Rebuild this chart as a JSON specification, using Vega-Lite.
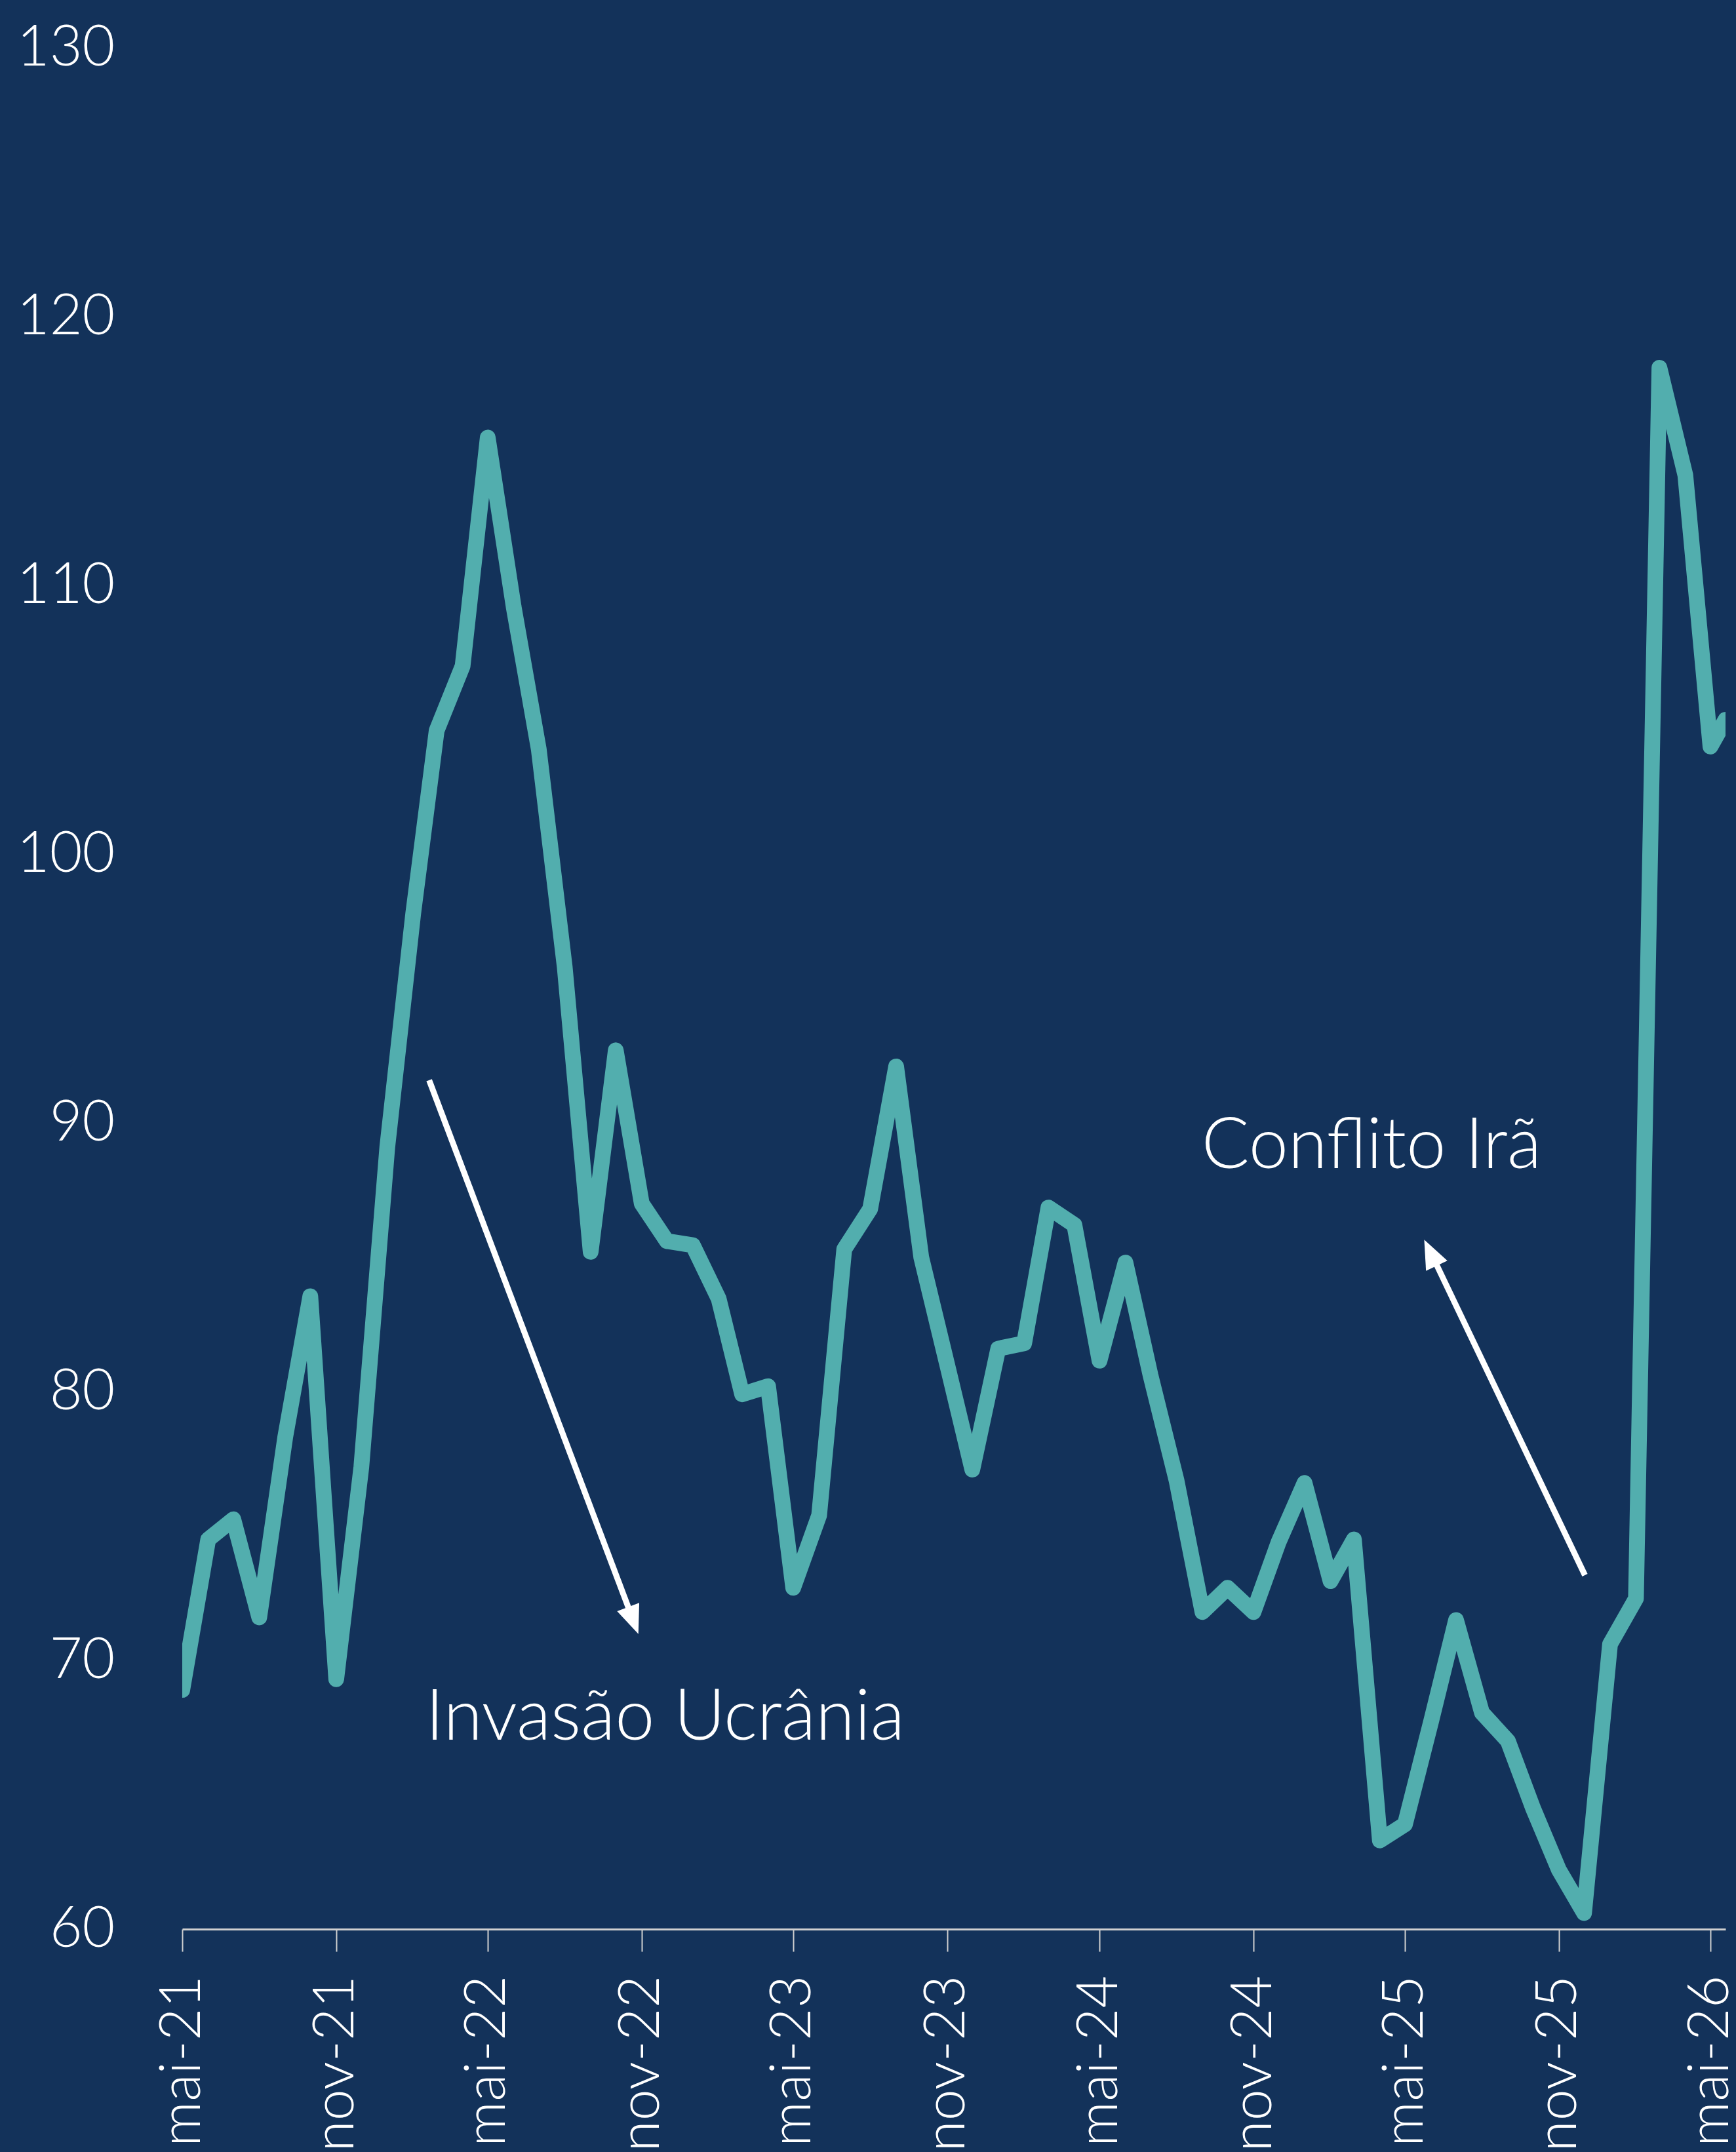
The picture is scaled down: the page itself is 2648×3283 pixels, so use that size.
{
  "$schema": "https://vega.github.io/schema/vega-lite/v6.json",
  "width": 2354,
  "height": 2870,
  "autosize": {"type": "none"},
  "padding": {"left": 278, "top": 73, "right": 16, "bottom": 340},
  "background": "#13325A",
  "config": {"view": {"stroke": null}, "font": "Lato"},
  "encoding": {
    "x": {
      "field": "date",
      "type": "temporal",
      "scale": {
        "type": "utc",
        "domain": [
          {"year": 2021, "month": 5, "date": 1, "utc": true},
          {"year": 2026, "month": 5, "date": 19, "utc": true}
        ]
      },
      "axis": {
        "title": null,
        "grid": false,
        "values": [
          {"year": 2021, "month": 5, "date": 1, "utc": true},
          {"year": 2021, "month": 11, "date": 1, "utc": true},
          {"year": 2022, "month": 5, "date": 1, "utc": true},
          {"year": 2022, "month": 11, "date": 1, "utc": true},
          {"year": 2023, "month": 5, "date": 1, "utc": true},
          {"year": 2023, "month": 11, "date": 1, "utc": true},
          {"year": 2024, "month": 5, "date": 1, "utc": true},
          {"year": 2024, "month": 11, "date": 1, "utc": true},
          {"year": 2025, "month": 5, "date": 1, "utc": true},
          {"year": 2025, "month": 11, "date": 1, "utc": true},
          {"year": 2026, "month": 5, "date": 1, "utc": true}
        ],
        "labelExpr": "(utcmonth(datum.value) == 4 ? 'mai' : 'nov') + '-' + utcFormat(datum.value, '%y')",
        "labelAngle": -90,
        "labelFontSize": 86,
        "labelFont": "Lato",
        "labelFontWeight": 300,
        "labelColor": "#FFFFFF",
        "labelPadding": 36,
        "labelLimit": 0,
        "labelOverlap": false,
        "labelFlush": false,
        "labelBound": false,
        "tickSize": 34,
        "tickWidth": 2,
        "tickColor": "#D0D0D0",
        "domainColor": "#D0D0D0",
        "domainWidth": 3
      }
    },
    "y": {
      "field": "value",
      "type": "quantitative",
      "scale": {"domain": [60, 130], "nice": false, "zero": false},
      "axis": {
        "title": null,
        "grid": false,
        "domain": false,
        "ticks": false,
        "values": [60, 70, 80, 90, 100, 110, 120, 130],
        "labelFontSize": 86,
        "labelFont": "Lato",
        "labelFontWeight": 300,
        "labelColor": "#FFFFFF",
        "labelPadding": 103,
        "labelLimit": 0,
        "labelFlush": false,
        "labelBound": false,
        "labelOverlap": false
      }
    }
  },
  "layer": [
    {
      "data": {
        "values": [
          {"date": "2021-05-01", "value": 68.9},
          {"date": "2021-06-01", "value": 74.5},
          {"date": "2021-07-01", "value": 75.25},
          {"date": "2021-08-01", "value": 71.6},
          {"date": "2021-09-01", "value": 78.3},
          {"date": "2021-10-01", "value": 83.55},
          {"date": "2021-11-01", "value": 69.3},
          {"date": "2021-12-01", "value": 77.2},
          {"date": "2022-01-01", "value": 89.1},
          {"date": "2022-02-01", "value": 97.8},
          {"date": "2022-03-01", "value": 104.6},
          {"date": "2022-04-01", "value": 107.0},
          {"date": "2022-05-01", "value": 115.5},
          {"date": "2022-06-01", "value": 109.2},
          {"date": "2022-07-01", "value": 103.9},
          {"date": "2022-08-01", "value": 95.8},
          {"date": "2022-09-01", "value": 85.2},
          {"date": "2022-10-01", "value": 92.7},
          {"date": "2022-11-01", "value": 87.0},
          {"date": "2022-12-01", "value": 85.6},
          {"date": "2023-01-01", "value": 85.45},
          {"date": "2023-02-01", "value": 83.45},
          {"date": "2023-03-01", "value": 79.9},
          {"date": "2023-04-01", "value": 80.2},
          {"date": "2023-05-01", "value": 72.7},
          {"date": "2023-06-01", "value": 75.4},
          {"date": "2023-07-01", "value": 85.3},
          {"date": "2023-08-01", "value": 86.8},
          {"date": "2023-09-01", "value": 92.1},
          {"date": "2023-10-01", "value": 85.0},
          {"date": "2023-11-01", "value": 81.0},
          {"date": "2023-12-01", "value": 77.1},
          {"date": "2024-01-01", "value": 81.6},
          {"date": "2024-02-01", "value": 81.8},
          {"date": "2024-03-01", "value": 86.85},
          {"date": "2024-04-01", "value": 86.2},
          {"date": "2024-05-01", "value": 81.15},
          {"date": "2024-06-01", "value": 84.8},
          {"date": "2024-07-01", "value": 80.6},
          {"date": "2024-08-01", "value": 76.7},
          {"date": "2024-09-01", "value": 71.8},
          {"date": "2024-10-01", "value": 72.7},
          {"date": "2024-11-01", "value": 71.8},
          {"date": "2024-12-01", "value": 74.4},
          {"date": "2025-01-01", "value": 76.6},
          {"date": "2025-02-01", "value": 72.95},
          {"date": "2025-03-01", "value": 74.5},
          {"date": "2025-04-01", "value": 63.3},
          {"date": "2025-05-01", "value": 63.9},
          {"date": "2025-06-01", "value": 67.7},
          {"date": "2025-07-01", "value": 71.5},
          {"date": "2025-08-01", "value": 68.05},
          {"date": "2025-09-01", "value": 67.0},
          {"date": "2025-10-01", "value": 64.5},
          {"date": "2025-11-01", "value": 62.2},
          {"date": "2025-12-01", "value": 60.6},
          {"date": "2026-01-01", "value": 70.6},
          {"date": "2026-02-01", "value": 72.3},
          {"date": "2026-03-01", "value": 118.1},
          {"date": "2026-04-01", "value": 114.1},
          {"date": "2026-05-01", "value": 104.0},
          {"date": "2026-05-19", "value": 105.0}
        ]
      },
      "mark": {
        "type": "line",
        "color": "#52AEAE",
        "strokeWidth": 24,
        "strokeCap": "round",
        "strokeJoin": "round",
        "clip": true
      }
    },
    {
      "data": {
        "values": [
          {"date": "2022-02-20", "value": 91.59, "date2": "2022-10-17", "value2": 71.89},
          {"date": "2025-12-02", "value": 73.17, "date2": "2025-06-07", "value2": 84.77}
        ]
      },
      "mark": {"type": "rule", "color": "#FFFFFF", "strokeWidth": 9, "strokeCap": "butt"},
      "encoding": {
        "x2": {"field": "date2", "type": "temporal"},
        "y2": {"field": "value2", "type": "quantitative"}
      }
    },
    {
      "data": {"values": [{"date": "2022-10-28", "value": 70.98}]},
      "mark": {
        "type": "point",
        "shape": "M0,0L0.41,1L-0.41,1Z",
        "size": 7744,
        "filled": true,
        "color": "#FFFFFF",
        "opacity": 1,
        "strokeWidth": 0,
        "angle": 159.3
      }
    },
    {
      "data": {"values": [{"date": "2025-05-24", "value": 85.65}]},
      "mark": {
        "type": "point",
        "shape": "M0,0L0.41,1L-0.41,1Z",
        "size": 7744,
        "filled": true,
        "color": "#FFFFFF",
        "opacity": 1,
        "strokeWidth": 0,
        "angle": 334.4
      }
    },
    {
      "data": {
        "values": [
          {"date": "2022-11-29", "value": 67.05, "label": "Invasão Ucrânia"},
          {"date": "2025-03-22", "value": 88.32, "label": "Conflito Irã"}
        ]
      },
      "mark": {
        "type": "text",
        "fontSize": 108,
        "font": "Lato",
        "fontWeight": 300,
        "color": "#FFFFFF",
        "align": "center",
        "baseline": "alphabetic"
      },
      "encoding": {"text": {"field": "label", "type": "nominal"}}
    }
  ]
}
